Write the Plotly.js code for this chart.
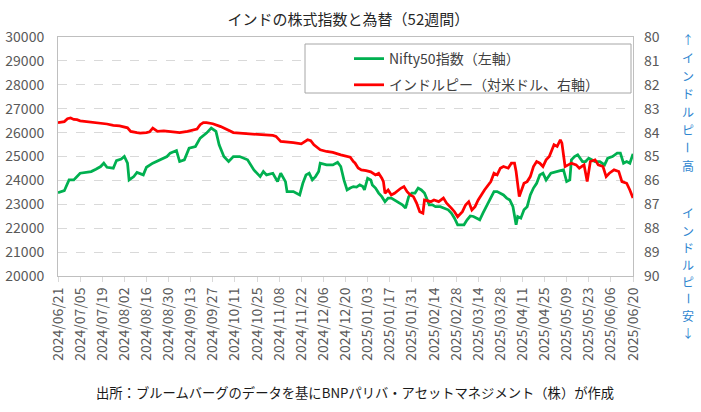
<!DOCTYPE html>
<html>
<head>
<meta charset="utf-8">
<script src="https://cdn.plot.ly/plotly-3.0.1.min.js"></script>
<style>
	html, body { margin: 0; padding: 0; background: #fff; }
	#chart { width: 701px; height: 412px; }
</style>
</head>
<body>
<div id="chart"></div>
<script>
// Nifty50 (left axis)
const niftyDates = [
	"2024-06-21", "2024-06-25", "2024-06-28", "2024-07-01", "2024-07-05", "2024-07-09", "2024-07-12", "2024-07-15",
	"2024-07-18", "2024-07-20", "2024-07-22", "2024-07-26", "2024-07-28", "2024-07-31", "2024-08-02", "2024-08-04",
	"2024-08-05", "2024-08-08", "2024-08-10", "2024-08-14", "2024-08-16", "2024-08-20", "2024-08-25", "2024-08-29",
	"2024-08-31", "2024-09-02", "2024-09-04", "2024-09-06", "2024-09-09", "2024-09-12", "2024-09-16", "2024-09-19",
	"2024-09-23", "2024-09-26", "2024-09-29", "2024-10-01", "2024-10-04", "2024-10-07", "2024-10-10", "2024-10-14",
	"2024-10-19", "2024-10-23", "2024-10-27", "2024-10-29", "2024-10-31", "2024-11-04", "2024-11-07", "2024-11-09",
	"2024-11-12", "2024-11-13", "2024-11-17", "2024-11-21", "2024-11-23", "2024-11-25", "2024-11-27", "2024-11-29",
	"2024-12-01", "2024-12-03", "2024-12-04", "2024-12-08", "2024-12-12", "2024-12-15", "2024-12-17", "2024-12-19",
	"2024-12-21", "2024-12-23", "2024-12-25", "2024-12-27", "2024-12-29", "2024-12-31", "2025-01-01", "2025-01-03",
	"2025-01-05", "2025-01-06", "2025-01-08", "2025-01-10", "2025-01-12", "2025-01-14", "2025-01-16", "2025-01-18",
	"2025-01-20", "2025-01-22", "2025-01-25", "2025-01-27", "2025-01-29", "2025-01-31", "2025-02-02", "2025-02-04",
	"2025-02-06", "2025-02-08", "2025-02-11", "2025-02-13", "2025-02-15", "2025-02-18", "2025-02-21", "2025-02-23",
	"2025-02-25", "2025-02-27", "2025-03-01", "2025-03-05", "2025-03-07", "2025-03-09", "2025-03-11", "2025-03-13",
	"2025-03-15", "2025-03-17", "2025-03-19", "2025-03-22", "2025-03-24", "2025-03-26", "2025-03-28", "2025-03-30",
	"2025-04-01", "2025-04-03", "2025-04-05", "2025-04-07", "2025-04-08", "2025-04-10", "2025-04-12", "2025-04-14",
	"2025-04-16", "2025-04-18", "2025-04-20", "2025-04-22", "2025-04-24", "2025-04-26", "2025-04-29", "2025-05-02",
	"2025-05-05", "2025-05-07", "2025-05-09", "2025-05-11", "2025-05-12", "2025-05-14", "2025-05-16", "2025-05-19",
	"2025-05-21", "2025-05-23", "2025-05-25", "2025-05-27", "2025-05-30", "2025-06-02", "2025-06-04", "2025-06-07",
	"2025-06-10", "2025-06-12", "2025-06-14", "2025-06-16", "2025-06-18", "2025-06-20"
];
const niftyValues = [
	23490, 23570, 24020, 24020, 24300, 24330, 24370, 24470,
	24580, 24720, 24550, 24510, 24830, 24890, 25000, 24720,
	24020, 24160, 24330, 24230, 24550, 24720, 24860, 25000,
	25140, 25210, 25250, 24790, 24860, 25350, 25420, 25770,
	25980, 26190, 26050, 25490, 25000, 24790, 25000, 25000,
	24860, 24440, 24160, 24370, 24230, 24300, 23950, 24300,
	23950, 23530, 23530, 23390, 23880, 24230, 24300, 24020,
	24160, 24370, 24720, 24650, 24650, 24760, 24580, 24020,
	23600, 23680, 23740, 23720, 23810, 23740, 23600, 24090,
	24020, 23810, 23680, 23470, 23320, 23110, 23260, 23260,
	23180, 23110, 22980, 22840, 23320, 23470, 23470, 23680,
	23600, 23470, 22980, 22980, 22900, 22900, 22840, 22770,
	22630, 22420, 22140, 22140, 22350, 22510, 22490, 22420,
	22350, 22630, 22900, 23320, 23530, 23530, 23470, 23390,
	23260, 23180, 22900, 22140, 22490, 22420, 22770, 22900,
	23390, 23680, 23880, 24230, 24300, 24020, 24300, 24370,
	24410, 24440, 23950, 24020, 24860, 25000, 25070, 24790,
	24790, 24930, 24860, 24790, 24790, 24650, 24930, 25000,
	25140, 25140, 24720, 24790, 24720, 25110
];

// INR per USD (right axis, reversed)
const inrDates = [
	"2024-06-21", "2024-06-25", "2024-06-27", "2024-06-29", "2024-07-01", "2024-07-03", "2024-07-05", "2024-07-09",
	"2024-07-14", "2024-07-18", "2024-07-22", "2024-07-26", "2024-07-30", "2024-08-04", "2024-08-06", "2024-08-10",
	"2024-08-12", "2024-08-16", "2024-08-18", "2024-08-20", "2024-08-23", "2024-08-27", "2024-08-31", "2024-09-06",
	"2024-09-11", "2024-09-15", "2024-09-17", "2024-09-19", "2024-09-21", "2024-09-23", "2024-09-27", "2024-10-02",
	"2024-10-06", "2024-10-10", "2024-10-14", "2024-10-19", "2024-10-23", "2024-10-27", "2024-10-31", "2024-11-04",
	"2024-11-06", "2024-11-09", "2024-11-17", "2024-11-22", "2024-11-26", "2024-11-28", "2024-11-30", "2024-12-04",
	"2024-12-08", "2024-12-12", "2024-12-17", "2024-12-21", "2024-12-23", "2024-12-25", "2024-12-26", "2024-12-28",
	"2024-12-30", "2025-01-02", "2025-01-05", "2025-01-08", "2025-01-10", "2025-01-12", "2025-01-13", "2025-01-14",
	"2025-01-16", "2025-01-18", "2025-01-20", "2025-01-24", "2025-01-26", "2025-01-28", "2025-01-30", "2025-02-01",
	"2025-02-03", "2025-02-05", "2025-02-07", "2025-02-08", "2025-02-12", "2025-02-14", "2025-02-17", "2025-02-20",
	"2025-02-22", "2025-02-25", "2025-02-27", "2025-03-01", "2025-03-04", "2025-03-06", "2025-03-08", "2025-03-10",
	"2025-03-12", "2025-03-14", "2025-03-16", "2025-03-18", "2025-03-22", "2025-03-24", "2025-03-26", "2025-03-28",
	"2025-03-30", "2025-04-02", "2025-04-04", "2025-04-06", "2025-04-07", "2025-04-09", "2025-04-12", "2025-04-14",
	"2025-04-16", "2025-04-18", "2025-04-20", "2025-04-22", "2025-04-24", "2025-04-26", "2025-04-28", "2025-05-01",
	"2025-05-03", "2025-05-05", "2025-05-06", "2025-05-08", "2025-05-10", "2025-05-12", "2025-05-15", "2025-05-17",
	"2025-05-20", "2025-05-22", "2025-05-24", "2025-05-27", "2025-05-29", "2025-06-01", "2025-06-03", "2025-06-05",
	"2025-06-08", "2025-06-11", "2025-06-13", "2025-06-16", "2025-06-18", "2025-06-20"
];
const inrValues = [
	83.58, 83.54, 83.42, 83.39, 83.45, 83.46, 83.51, 83.54,
	83.58, 83.60, 83.64, 83.70, 83.72, 83.80, 83.95, 84.00,
	84.02, 84.00, 83.97, 83.81, 83.95, 83.93, 83.95, 84.00,
	83.95, 83.88, 83.85, 83.67, 83.58, 83.58, 83.63, 83.75,
	83.88, 84.00, 84.02, 84.05, 84.06, 84.08, 84.09, 84.12,
	84.16, 84.37, 84.42, 84.47, 84.30, 84.34, 84.51, 84.72,
	84.79, 84.83, 84.93, 85.01, 85.03, 85.21, 85.27, 85.48,
	85.56, 85.59, 85.64, 85.77, 85.70, 85.91, 86.05, 86.54,
	86.40, 86.61, 86.54, 86.33, 86.26, 86.47, 86.61, 86.68,
	86.95, 87.31, 87.37, 86.82, 86.89, 86.82, 86.89, 86.74,
	86.95, 87.16, 87.31, 87.52, 87.31, 87.03, 86.89, 87.24,
	87.10, 86.82, 86.61, 86.40, 86.05, 85.70, 85.77, 85.49,
	85.42, 85.49, 85.28, 85.28, 85.63, 86.68, 86.12, 86.05,
	85.84, 85.42, 85.21, 85.28, 85.42, 85.14, 85.00, 84.51,
	84.58, 84.30, 84.44, 85.42, 85.35, 85.28, 85.35, 85.49,
	85.35, 86.05, 85.21, 85.14, 85.35, 85.42, 85.84, 85.70,
	85.56, 85.63, 86.05, 86.12, 86.40, 86.74
];

const niftyName = "Nifty50指数（左軸）";
const inrName = "インドルピー（対米ドル、右軸）";
const rupeeStrong = "↑インドルピー高";
const rupeeWeak = "インドルピー安↓";
const jpFont = "'Noto Sans CJK JP', 'Noto Sans', sans-serif";

// plot box in pixels, used to place the side captions
const plotTop = 37, plotBottom = 276, plotLeft = 58, plotRight = 633;
const toPaperY = (py) => (plotBottom - py) / (plotBottom - plotTop);
const toPaperX = (px) => (px - plotLeft) / (plotRight - plotLeft);

// vertical writing: one character per annotation, the long vowel mark (U+30FC) turned upright
function verticalText(str, startY, step) {
	return Array.from(str).map((ch, i) => ({
		text: ch,
		textangle: ch.charCodeAt(0) === 0x30fc ? 90 : 0,
		xref: "paper",
		yref: "paper",
		x: toPaperX(688),
		y: toPaperY(startY + i * step),
		xanchor: "center",
		yanchor: "middle",
		showarrow: false,
		font: { size: 12, color: "#2f86d0", family: jpFont },
	}));
}

const data = [
	{
		x: niftyDates,
		y: niftyValues,
		name: niftyName,
		legendgroup: "nifty",
		type: "scatter",
		mode: "lines",
		line: { color: "#00b050", width: 2.75 },
		yaxis: "y",
	},
	{
		x: inrDates,
		y: inrValues,
		name: inrName,
		legendgroup: "inr",
		type: "scatter",
		mode: "lines",
		line: { color: "#ff0000", width: 2.75 },
		yaxis: "y2",
	},
];

const layout = {
	width: 701,
	height: 412,
	paper_bgcolor: "#ffffff",
	plot_bgcolor: "#ffffff",
	font: { family: jpFont, color: "#595959" },
	margin: { l: plotLeft, r: 701 - plotRight, t: plotTop, b: 412 - plotBottom },
	title: {
		text: "インドの株式指数と為替（52週間）",
		font: { size: 15, color: "#262626", family: jpFont },
		xref: "container",
		x: 0.497,
		y: 0.951,
		yanchor: "middle",
	},
	xaxis: {
		type: "date",
		range: ["2024-06-21", "2025-06-20"],
		tick0: "2024-06-21",
		dtick: 14 * 86400000,
		tickformat: "%Y/%m/%d",
		tickangle: -90,
		ticks: "outside",
		ticklen: 5,
		tickcolor: "#d9d9d9",
		showline: true,
		linecolor: "#bfbfbf",
		mirror: true,
		showgrid: false,
		tickfont: { size: 14, color: "#595959" },
		fixedrange: true,
	},
	yaxis: {
		range: [20000, 30000],
		dtick: 1000,
		tickformat: "d",
		showgrid: true,
		gridcolor: "#d9d9d9",
		griddash: "dash",
		zeroline: false,
		showline: true,
		linecolor: "#bfbfbf",
		mirror: true,
		tickfont: { size: 14, color: "#595959" },
		ticklabelstandoff: 10,
		fixedrange: true,
	},
	yaxis2: {
		overlaying: "y",
		side: "right",
		range: [90, 80],
		dtick: 1,
		showgrid: false,
		zeroline: false,
		tickfont: { size: 14, color: "#595959" },
		ticklabelstandoff: 10,
		fixedrange: true,
	},
	showlegend: true,
	legend: {
		x: toPaperX(349),
		y: toPaperY(43),
		xanchor: "left",
		yanchor: "top",
		bgcolor: "rgba(0,0,0,0)",
		borderwidth: 0,
		tracegroupgap: 5,
		font: { size: 14, color: "#404040", family: jpFont },
	},
	shapes: [
		{
			type: "rect",
			xref: "paper",
			yref: "paper",
			x0: toPaperX(305),
			x1: toPaperX(631),
			y0: toPaperY(93),
			y1: toPaperY(44),
			line: { color: "#a6a6a6", width: 1 },
			fillcolor: "#ffffff",
			layer: "above",
		},
	],
	annotations: [
		...verticalText(rupeeStrong, 40, 17.9),
		...verticalText(rupeeWeak, 213, 17.1),
		{
			text: "出所：ブルームバーグのデータを基にBNPパリバ・アセットマネジメント（株）が作成",
			xref: "paper",
			yref: "paper",
			x: toPaperX(355),
			y: toPaperY(392),
			yanchor: "middle",
			showarrow: false,
			font: { size: 13.3, color: "#1a1a1a", family: jpFont },
		},
	],
};

const config = {
	displayModeBar: false,
	staticPlot: true,
};

Plotly.newPlot("chart", data, layout, config);
</script>
</body>
</html>
